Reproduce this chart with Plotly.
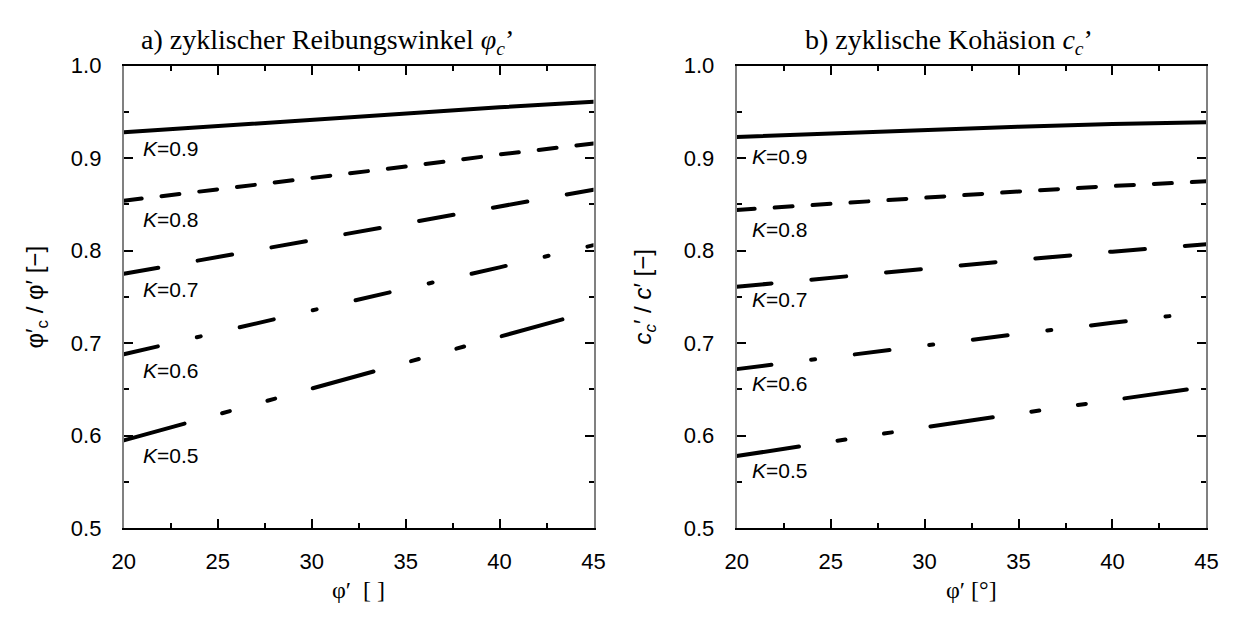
import plotly.graph_objects as go

W, H = 1240, 617

# ---------------- data ----------------
phi = [20, 25, 30, 35, 40, 45]
k_values = ["0.9", "0.8", "0.7", "0.6", "0.5"]

# a) cyclic friction angle ratio phi'_c / phi'
a_k09 = [0.928, 0.935, 0.942, 0.948, 0.955, 0.961]
a_k08 = [0.854, 0.866, 0.879, 0.891, 0.904, 0.916]
a_k07 = [0.775, 0.793, 0.811, 0.830, 0.848, 0.866]
a_k06 = [0.688, 0.712, 0.735, 0.759, 0.782, 0.806]
a_k05 = [0.595, 0.623, 0.651, 0.679, 0.707, 0.735]

# b) cyclic cohesion ratio c'_c / c'
b_k09 = [0.923, 0.927, 0.931, 0.934, 0.937, 0.939]
b_k08 = [0.844, 0.851, 0.858, 0.864, 0.870, 0.875]
b_k07 = [0.761, 0.771, 0.781, 0.790, 0.799, 0.807]
b_k06 = [0.672, 0.685, 0.698, 0.710, 0.722, 0.734]
b_k05 = [0.578, 0.594, 0.609, 0.624, 0.639, 0.653]

# label positions (value at which each "K=" label sits)
a_label_y = [0.910, 0.834, 0.758, 0.671, 0.579]
b_label_y = [0.902, 0.823, 0.747, 0.656, 0.562]

x_ticks = [20, 25, 30, 35, 40, 45]
y_ticks = [0.5, 0.6, 0.7, 0.8, 0.9, 1.0]

# ---------------- styles ----------------
# dash patterns (used with round line caps)
dashes = ["solid", "18px,20px", "35px,40px", "35px,40px,4px,40px",
          "63px,39px,8px,39px,8px,39px"]
LW = 4

def px2paper_x(px):
    return px / W

def px2paper_y(py):
    return 1 - py / H

xdomA = [px2paper_x(114), px2paper_x(593)]
xdomB = [px2paper_x(739), px2paper_x(1218)]
ydom = [px2paper_y(538), px2paper_y(56)]

fig = go.Figure()

for series, dash in zip([a_k09, a_k08, a_k07, a_k06, a_k05], dashes):
    fig.add_trace(go.Scatter(x=phi, y=series, mode="lines",
                             line=dict(color="black", width=LW, dash=dash),
                             xaxis="x", yaxis="y", showlegend=False))
for series, dash in zip([b_k09, b_k08, b_k07, b_k06, b_k05], dashes):
    fig.add_trace(go.Scatter(x=phi, y=series, mode="lines",
                             line=dict(color="black", width=LW, dash=dash),
                             xaxis="x2", yaxis="y2", showlegend=False))

tickfont = dict(family="Liberation Sans, Arial, sans-serif", size=22, color="black")

def xaxis_style(domain, anchor):
    return dict(domain=domain, anchor=anchor, range=[20, 45],
                tickvals=x_ticks, ticktext=[str(v) for v in x_ticks],
                ticks="inside", ticklen=9, tickwidth=1.5, tickcolor="black",
                minor=dict(ticks="inside", ticklen=5, tickwidth=1.5,
                           tickcolor="black", dtick=2.5, tick0=20),
                showline=True, linecolor="black", linewidth=2, mirror="ticks",
                showgrid=False, zeroline=False, tickfont=tickfont,
                ticklabelstandoff=12)

def yaxis_style(anchor):
    return dict(domain=ydom, anchor=anchor, range=[0.5, 1.0],
                tickvals=y_ticks, ticktext=["%.1f" % v for v in y_ticks],
                ticks="inside", ticklen=9, tickwidth=1.5, tickcolor="black",
                minor=dict(ticks="inside", ticklen=5, tickwidth=1.5,
                           tickcolor="black", dtick=0.05, tick0=0.5),
                showline=True, linecolor="#808080", linewidth=2, mirror="ticks",
                showgrid=False, zeroline=False, tickfont=tickfont,
                ticklabelstandoff=16)

annotations = []
lab_font = dict(family="Liberation Sans, Arial, sans-serif", size=21, color="black")
for k, ya in zip(k_values, a_label_y):
    annotations.append(dict(x=20.9, y=ya, xref="x", yref="y", text="<i>K</i>=" + k,
                            showarrow=False, xanchor="left", yanchor="middle", font=lab_font))
for k, yb in zip(k_values, b_label_y):
    annotations.append(dict(x=20.7, y=yb, xref="x2", yref="y2", text="<i>K</i>=" + k,
                            showarrow=False, xanchor="left", yanchor="middle", font=lab_font))

serif = dict(family="Liberation Serif, Times New Roman, serif", size=28, color="black")
annotations += [
    dict(x=px2paper_x(322), y=px2paper_y(31), xref="paper", yref="paper",
         text="a) zyklischer Reibungswinkel <i>φ<sub>c</sub></i>’", showarrow=False,
         xanchor="center", yanchor="middle", font=serif),
    dict(x=px2paper_x(955), y=px2paper_y(31), xref="paper", yref="paper",
         text="b) zyklische Kohäsion <i>c<sub>c</sub></i>’", showarrow=False,
         xanchor="center", yanchor="middle", font=serif),
]
axt_font = dict(family="Liberation Serif, Times New Roman, serif", size=24, color="black")
annotations += [
    dict(x=px2paper_x(353), y=px2paper_y(602), xref="paper", yref="paper",
         text="φ′  [ ]", showarrow=False, xanchor="center", yanchor="middle", font=axt_font),
    dict(x=px2paper_x(978), y=px2paper_y(602), xref="paper", yref="paper",
         text="φ′ [°]", showarrow=False, xanchor="center", yanchor="middle", font=axt_font),
]
ylab_font = dict(family="Liberation Sans, Arial, sans-serif", size=24, color="black")
annotations += [
    dict(x=px2paper_x(25), y=px2paper_y(297), xref="paper", yref="paper",
         text="φ′<sub>c</sub> / φ′ [−]", textangle=-90, showarrow=False,
         xanchor="center", yanchor="middle", font=ylab_font),
    dict(x=px2paper_x(645), y=px2paper_y(297), xref="paper", yref="paper",
         text="<i>c</i><sub><i>c</i></sub>′ / <i>c</i>′ [−]", textangle=-90, showarrow=False,
         xanchor="center", yanchor="middle", font=ylab_font),
]

fig.update_layout(
    width=W, height=H, margin=dict(l=0, r=0, t=0, b=0),
    paper_bgcolor="white", plot_bgcolor="white",
    xaxis=xaxis_style(xdomA, "y"), yaxis=yaxis_style("x"),
    xaxis2=xaxis_style(xdomB, "y2"), yaxis2=yaxis_style("x2"),
    annotations=annotations, showlegend=False,
)

fig.write_html(
    "out.html",
    post_script=(
        "document.querySelectorAll('g.scatterlayer path.js-line')"
        ".forEach(function(p){p.style.strokeLinecap='round';});"
    ),
)
